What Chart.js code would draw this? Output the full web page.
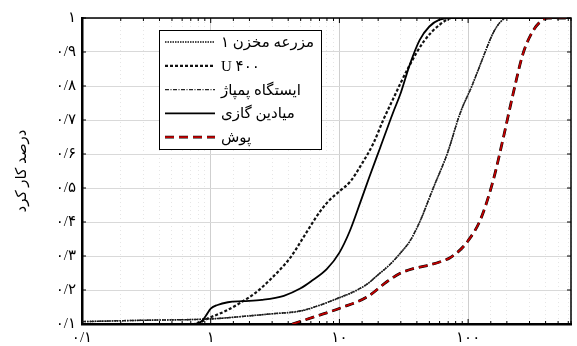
<!DOCTYPE html>
<html lang="fa">
<head>
<meta charset="utf-8">
<title>درصد کارکرد</title>
<script src="https://cdn.jsdelivr.net/npm/chart.js@4.4.1/dist/chart.umd.min.js"></script>
<style>
  html, body { margin: 0; padding: 0; background: #fff; }
  #wrap { width: 577px; height: 346px; position: relative; }
</style>
</head>
<body>
<div id="wrap"><canvas id="chart"></canvas></div>
<script>
/* ===============================
   Data
   =============================== */
const reservoirX = [0.1, 0.3, 1, 2, 3, 5, 7, 10, 13, 16.5, 20, 25, 30, 35.5, 42.5, 53.6, 68.7, 86.7, 107, 131, 156, 180, 200, 630];
const reservoirY = [0.107, 0.111, 0.115, 0.124, 0.13, 0.138, 0.155, 0.177, 0.195, 0.218, 0.245, 0.277, 0.31, 0.345, 0.404, 0.5, 0.6, 0.72, 0.8, 0.885, 0.955, 0.99, 1, 1];

const pumpX = [0.1, 0.3, 1, 2, 3, 5, 7, 10, 13, 16.5, 20, 25, 30, 35.5, 42.5, 53.6, 68.7, 86.7, 107, 131, 156, 180, 200, 630];
const pumpY = [0.107, 0.111, 0.115, 0.124, 0.13, 0.139, 0.155, 0.178, 0.196, 0.218, 0.245, 0.277, 0.31, 0.346, 0.404, 0.5, 0.6, 0.72, 0.8, 0.885, 0.955, 0.99, 1, 1];

const u400X = [0.1, 0.74, 1.0, 1.3, 1.71, 2.2, 2.8, 4.17, 5, 6, 7.2, 8.5, 10, 12.2, 14.6, 18.4, 21.9, 26, 30, 35, 45, 60, 76, 630];
const u400Y = [0.1, 0.1, 0.12, 0.138, 0.163, 0.19, 0.225, 0.296, 0.342, 0.39, 0.435, 0.467, 0.49, 0.52, 0.565, 0.632, 0.7, 0.76, 0.81, 0.86, 0.93, 0.98, 1, 1];

const gasX = [0.1, 0.75, 0.85, 0.92, 1.0, 1.13, 1.36, 1.8, 2.5, 3.7, 5, 6, 8, 10, 12, 14.6, 17, 20.8, 26, 30, 35, 42, 50, 60, 72, 630];
const gasY = [0.1, 0.1, 0.108, 0.125, 0.145, 0.156, 0.164, 0.167, 0.171, 0.183, 0.205, 0.225, 0.262, 0.31, 0.372, 0.46, 0.53, 0.62, 0.72, 0.78, 0.86, 0.935, 0.975, 0.995, 1, 1];

const coverX = [4.3, 6.75, 10.2, 16.5, 23.5, 30, 37.5, 48, 60.7, 72.4, 86.7, 100, 124, 156, 187, 223, 267, 319, 381, 420, 630];
const coverY = [0.1, 0.124, 0.147, 0.18, 0.225, 0.25, 0.263, 0.272, 0.283, 0.295, 0.318, 0.345, 0.405, 0.52, 0.645, 0.775, 0.895, 0.962, 0.995, 1, 1];

const seriesLabels = ["مزرعه مخزن ۱", "U ۴۰۰", "ایستگاه پمپاژ", "میادین گازی", "پوش"];

const xTickValues = [0.1, 1, 10, 100];
const xTickLabels = ["۰/۱", "۱", "۱۰", "۱۰۰"];
const yTickLabels = ["۰/۱", "۰/۲", "۰/۳", "۰/۴", "۰/۵", "۰/۶", "۰/۷", "۰/۸", "۰/۹", "۱"];
const yTitle = "درصد کار کرد";

/* ===============================
   Helpers
   =============================== */
const toPoints = (xs, ys) => xs.map((x, i) => ({ x, y: ys[i] }));

const isDecade = v => {
  if (!v) return false;
  const l = Math.log10(v);
  return Math.abs(l - Math.round(l)) < 1e-6;
};

const FONT = '"Liberation Serif", "DejaVu Sans", serif';

/* Box frame + inward tick marks */
const framePlugin = {
  id: "frame",
  afterDraw(chart) {
    const { ctx, chartArea: a, scales: { x, y } } = chart;
    ctx.save();
    ctx.strokeStyle = "#000";
    ctx.lineWidth = 1.5;
    ctx.beginPath();
    ctx.moveTo(a.left, a.top);
    ctx.lineTo(a.right, a.top);
    ctx.lineTo(a.right, a.bottom);
    ctx.stroke();

    ctx.lineWidth = 1;
    ctx.beginPath();
    x.ticks.forEach(t => {
      const px = x.getPixelForValue(t.value);
      const len = isDecade(t.value) ? 5 : 3;
      ctx.moveTo(px, a.bottom);
      ctx.lineTo(px, a.bottom - len);
      ctx.moveTo(px, a.top);
      ctx.lineTo(px, a.top + len);
    });
    y.ticks.forEach(t => {
      const py = y.getPixelForValue(t.value);
      ctx.moveTo(a.left, py);
      ctx.lineTo(a.left + 4, py);
      ctx.moveTo(a.right, py);
      ctx.lineTo(a.right - 4, py);
    });
    ctx.stroke();
    ctx.restore();
  }
};

/* Legend box inside the plot */
const legendBox = {
  id: "legendBox",
  afterDraw(chart) {
    const { ctx, chartArea: a } = chart;
    const left = Math.round(a.left + 77);
    const top = Math.round(a.top + 12);
    const w = 162, h = 119;

    ctx.save();
    ctx.fillStyle = "#fff";
    ctx.fillRect(left, top, w, h);
    ctx.strokeStyle = "#000";
    ctx.lineWidth = 1;
    ctx.strokeRect(left + 0.5, top + 0.5, w, h);

    ctx.font = "15px " + FONT;
    ctx.textBaseline = "middle";
    ctx.textAlign = "left";
    ctx.direction = "ltr";

    chart.data.datasets.forEach(ds => {
      if (ds.legendRow === undefined) return;
      const yy = top + 12 + ds.legendRow * 23.8;

      ctx.save();
      ctx.strokeStyle = ds.borderColor;
      ctx.lineWidth = ds.borderWidth;
      ctx.setLineDash(ds.borderDash || []);
      ctx.beginPath();
      ctx.moveTo(left + 6, yy);
      ctx.lineTo(left + 56, yy);
      ctx.stroke();
      ctx.restore();

      if (ds.label) {
        ctx.fillStyle = "#000";
        ctx.fillText(ds.label, left + 62, yy + 1);
      }
    });
    ctx.restore();
  }
};

/* ===============================
   Build chart
   =============================== */
const canvas = document.getElementById("chart");

new Chart(canvas.getContext("2d"), {
  type: "line",
  data: {
    datasets: [
      {
        label: seriesLabels[0],
        data: toPoints(reservoirX, reservoirY),
        borderColor: "#111",
        borderWidth: 1.6,
        borderDash: [1.5, 1],
        legendRow: 0,
        order: 5
      },
      {
        label: seriesLabels[1],
        data: toPoints(u400X, u400Y),
        borderColor: "#111",
        borderWidth: 2.2,
        borderDash: [3, 2],
        legendRow: 1,
        order: 3
      },
      {
        label: seriesLabels[2],
        data: toPoints(pumpX, pumpY),
        borderColor: "#222",
        borderWidth: 1.4,
        borderDash: [4, 1.5, 1, 1.5],
        legendRow: 2,
        order: 4
      },
      {
        label: seriesLabels[3],
        data: toPoints(gasX, gasY),
        borderColor: "#000",
        borderWidth: 1.8,
        borderDash: [],
        legendRow: 3,
        order: 2
      },
      {
        label: "",
        data: toPoints(coverX, coverY),
        borderColor: "#000",
        borderWidth: 2.8,
        borderDash: [9, 5],
        legendRow: 4,
        order: 1
      },
      {
        label: seriesLabels[4],
        data: toPoints(coverX, coverY),
        borderColor: "#c00000",
        borderWidth: 1.8,
        borderDash: [9, 5],
        legendRow: 4,
        order: 0
      }
    ]
  },
  options: {
    responsive: true,
    maintainAspectRatio: false,
    animation: false,
    layout: { padding: { top: 18, right: 6, left: 0, bottom: 0 } },
    elements: {
      point: { radius: 0 },
      line: { cubicInterpolationMode: "monotone", fill: false }
    },
    plugins: {
      legend: { display: false },
      tooltip: { enabled: false }
    },
    scales: {
      x: {
        type: "logarithmic",
        min: 0.1,
        max: 630,
        afterFit: s => { s.height = 22; },
        grid: {
          drawTicks: false,
          lineWidth: 1,
          color: c => (c.tick && isDecade(c.tick.value) ? "#cfcfcf" : "#e6e6e6")
        },
        border: {
          display: true,
          color: "#000",
          width: 2.5,
          dash: c => (c.tick && !isDecade(c.tick.value) ? [1, 3] : [])
        },
        ticks: {
          autoSkip: false,
          maxRotation: 0,
          padding: 5,
          color: "#000",
          font: { size: 15, family: FONT },
          callback: v => {
            const i = xTickValues.findIndex(t => Math.abs(t - v) / t < 1e-6);
            return i >= 0 ? xTickLabels[i] : "";
          }
        }
      },
      y: {
        min: 0.1,
        max: 1,
        afterFit: s => { s.width = 82; },
        grid: { drawTicks: false, color: "#d9d9d9" },
        border: { display: true, color: "#000", width: 2.5 },
        ticks: {
          stepSize: 0.1,
          padding: 6,
          color: "#000",
          font: { size: 15, family: FONT },
          callback: v => yTickLabels[Math.round(v * 10) - 1]
        },
        title: {
          display: true,
          text: yTitle,
          color: "#000",
          font: { size: 15, family: FONT },
          padding: { top: 13, bottom: 0 }
        }
      }
    }
  },
  plugins: [framePlugin, legendBox]
});
</script>
</body>
</html>
